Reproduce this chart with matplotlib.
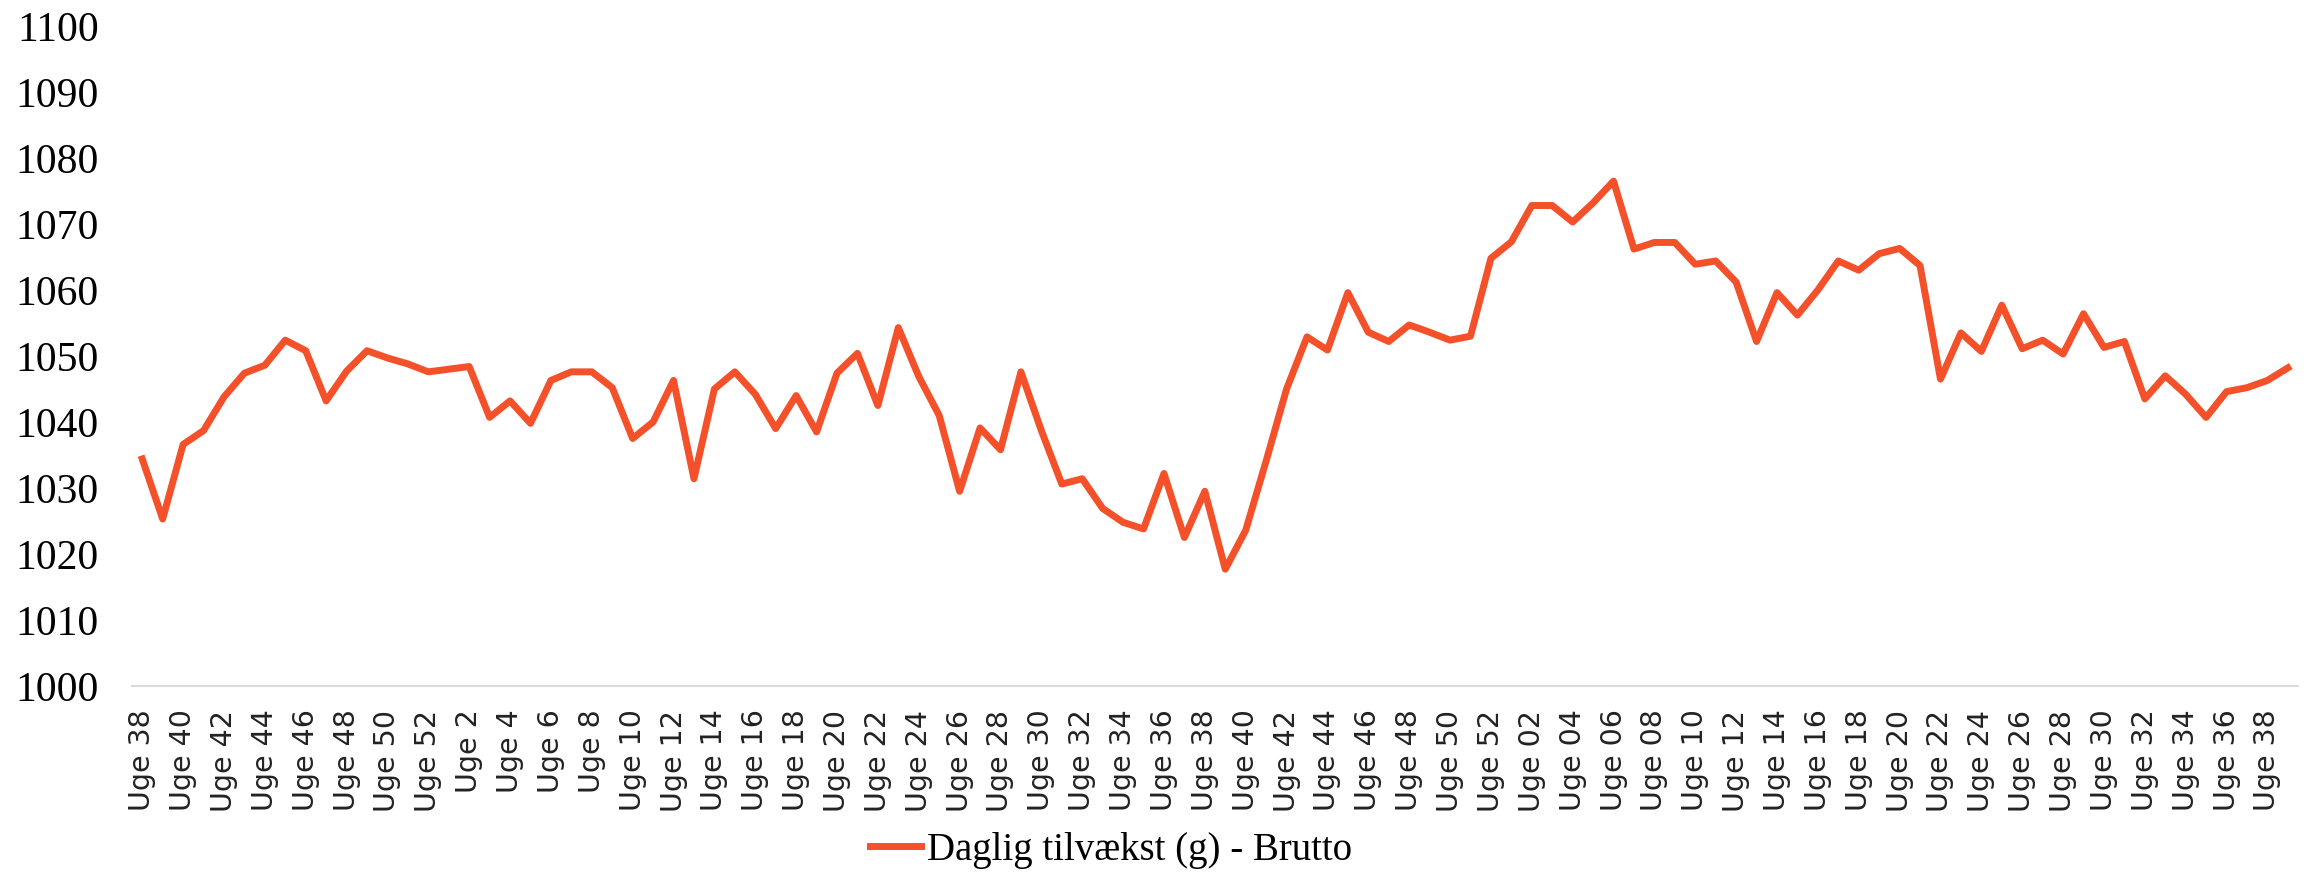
import matplotlib.pyplot as plt

# week numbers per season (x-axis categories)
weeks_y1 = list(range(38, 53))
weeks_y2 = list(range(1, 53))
weeks_y3 = list(range(1, 40))

labels = (["Uge %d" % w for w in weeks_y1]
          + ["Uge %d" % w for w in weeks_y2]
          + ["Uge %02d" % w for w in weeks_y3])

# Daglig tilvækst (g) - Brutto
values = [
    1034.4, 1025.3, 1036.6, 1038.7, 1043.8, 1047.4, 1048.6, 1052.4, 1050.8, 1043.2,
    1047.7, 1050.8, 1049.7, 1048.8, 1047.6,
    1048.0, 1048.4, 1040.7, 1043.2, 1039.8, 1046.3, 1047.6, 1047.6, 1045.2, 1037.5,
    1040.0, 1046.3, 1031.4, 1045.0, 1047.6, 1044.2, 1039.0, 1044.0, 1038.5, 1047.4,
    1050.4, 1042.5, 1054.3, 1046.9, 1041.0, 1029.5, 1039.1, 1035.8, 1047.6, 1038.7,
    1030.6, 1031.4, 1026.9, 1024.8, 1023.8, 1032.2, 1022.5, 1029.5, 1017.7, 1023.6,
    1034.1, 1045.0, 1052.9, 1050.9, 1059.6, 1053.6, 1052.2, 1054.7, 1053.6, 1052.4,
    1053.0, 1064.8,
    1067.3, 1072.8, 1072.8, 1070.3, 1073.2, 1076.5, 1066.2, 1067.2, 1067.2, 1063.9,
    1064.4, 1061.2, 1052.2, 1059.6, 1056.2, 1060.0, 1064.4, 1063.0, 1065.5, 1066.3,
    1063.7, 1046.5, 1053.5, 1050.7, 1057.7, 1051.1, 1052.4, 1050.3, 1056.4, 1051.3,
    1052.2, 1043.5, 1047.0, 1044.2, 1040.7, 1044.6, 1045.2, 1046.3, 1048.2,
]

x = list(range(len(values)))

fig = plt.figure(figsize=(23.08, 8.72), dpi=100)
ax = fig.add_axes([0.0572, 0.2133, 0.9385, 0.7569])

ax.plot(x, values, color='#f4502a', linewidth=5, label="Daglig tilvækst (g) - Brutto")

ax.set_xlim(-0.5, len(values) - 0.5)
ax.set_ylim(1000, 1100)
ax.set_yticks(range(1000, 1101, 10))
ax.set_yticklabels([str(v) for v in range(1000, 1101, 10)], fontfamily='Liberation Serif', fontsize=30)
ax.set_xticks(x[::2])
ax.set_xticklabels(labels[::2], rotation=90, fontfamily='DejaVu Sans', fontsize=20.5, color='#222222')
ax.tick_params(axis='y', length=0, pad=24)
ax.tick_params(axis='x', length=0, pad=17)

for s in ['top', 'right', 'left']:
    ax.spines[s].set_visible(False)
ax.spines['bottom'].set_color('#d9d9d9')
ax.spines['bottom'].set_linewidth(1.5)

fig.legend(loc='center', bbox_to_anchor=(0.4814, 0.025), frameon=False,
           prop={'family': 'Liberation Serif', 'size': 28},
           handlelength=1.3, handletextpad=0.15)

fig.savefig('out.png', dpi=100)
